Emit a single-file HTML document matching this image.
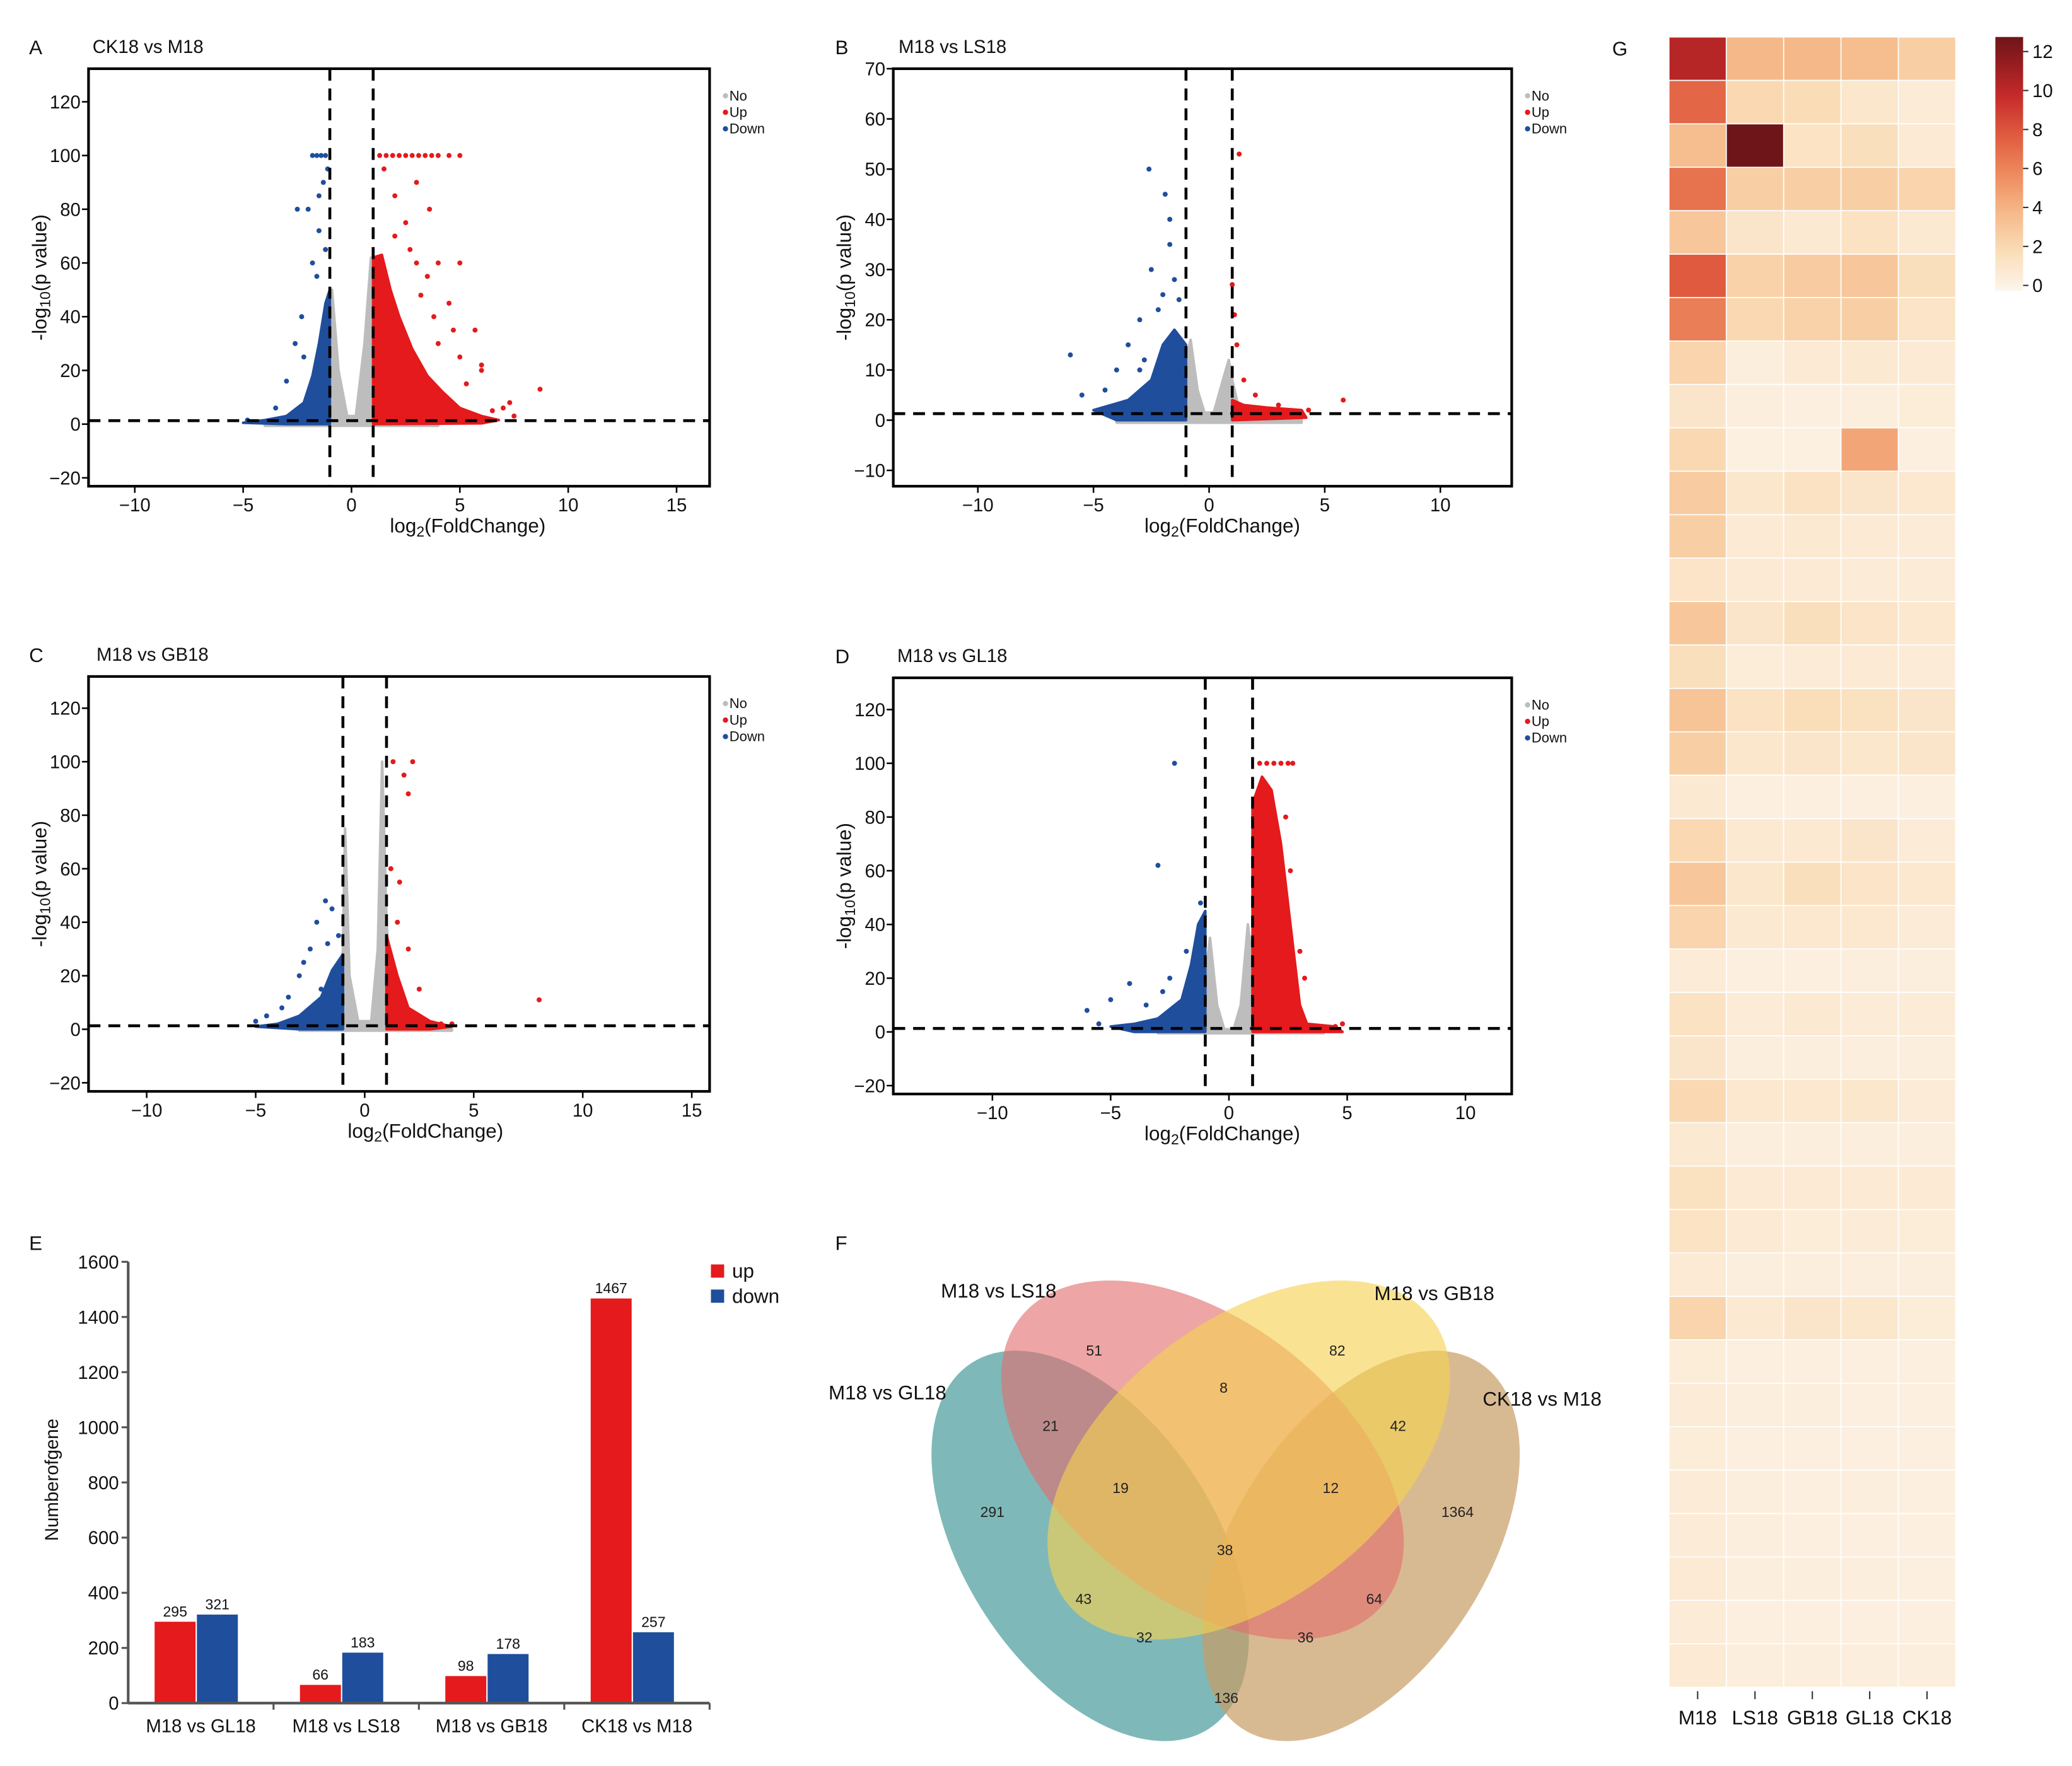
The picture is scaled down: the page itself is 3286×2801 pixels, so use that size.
<!DOCTYPE html>
<html><head><meta charset="utf-8">
<style>
html,body{margin:0;padding:0;background:#fff;}
svg{display:block;font-family:"Liberation Sans",Arial,sans-serif;}
</style></head>
<body>
<svg id="fig" xmlns="http://www.w3.org/2000/svg" width="3286" height="2801" viewBox="0 0 1568 1336.6" preserveAspectRatio="none"></svg>
<script>
// ---------- DATA ----------
// Panel A (CK18 vs M18)
const aGray=[[-4,0],[-2,0.5],[-1.3,3],[-1.05,30],[-0.9,50],[-0.6,20],[-0.2,3],[0.2,3],[0.6,30],[0.9,62],[1.05,30],[1.3,3],[2,0.5],[4,0],[4,-0.6],[-4,-0.6]];
const aUpArea=[[1,0],[1,62],[1.4,63],[1.8,50],[2.2,40],[2.8,28],[3.5,18],[4.2,12],[5,6],[6,3],[6.8,1.5],[6,0.3]];
const aUpPts=[[1.3,100],[1.6,100],[1.9,100],[2.2,100],[2.5,100],[2.8,100],[3.1,100],[3.4,100],[3.7,100],[4,100],[4.5,100],[5,100],[1.5,95],[2,85],[2.5,75],[3.6,80],[3,90],[3,60],[3.5,55],[4,60],[4.5,45],[5,60],[5,25],[5.7,35],[4,30],[6,20],[6,22],[7,6],[7.3,8],[8.7,13],[7.5,3],[6.5,5],[2,70],[2.7,65],[3.2,48],[4.7,35],[5.3,15],[3.8,40]];
const aDownArea=[[-1,0],[-1,50],[-1.2,45],[-1.5,30],[-1.8,18],[-2.2,8],[-3,3],[-4,1.5],[-5,0.5],[-3,0]];
const aDownPts=[[-1.8,100],[-1.6,100],[-1.4,100],[-1.2,100],[-2,80],[-1.5,72],[-2.5,80],[-1.8,60],[-2.3,40],[-3,16],[-1.5,85],[-2.2,25],[-4.8,1.5],[-1.3,90],[-1.2,65],[-1.6,55],[-2.6,30],[-3.5,6],[-1.1,95]];
// Panel B (M18 vs LS18)
const bGray=[[-4,0],[-2,0.5],[-1.2,3],[-1,12],[-0.8,16],[-0.5,6],[-0.2,1.5],[0.2,1.5],[0.6,8],[0.85,12],[1,8],[1.3,2],[2.5,0.5],[4,0],[4,-0.5],[-4,-0.5]];
const bUpArea=[[1,0],[1,4],[1.5,3],[2.5,2.5],[4,2],[4.2,0.5]];
const bUpPts=[[1.3,53],[1,27],[1.1,21],[5.8,4],[4.3,2],[1.2,15],[1.5,8],[2,5],[3,3]];
const bDownArea=[[-1,0],[-1,15],[-1.5,18],[-2,15],[-2.5,8],[-3.5,4],[-5,2],[-4,0]];
const bDownPts=[[-2.6,50],[-1.9,45],[-1.7,40],[-1.7,35],[-2.5,30],[-2,25],[-3,20],[-3.5,15],[-6,13],[-5.5,5],[-4,10],[-3,10],[-2.2,22],[-1.5,28],[-2.8,12],[-4.5,6],[-1.3,24]];
// Panel C (M18 vs GB18)
const cGray=[[-3,0],[-1.6,1],[-1.2,8],[-1,30],[-0.9,75],[-0.7,20],[-0.3,3],[0.3,3],[0.6,30],[0.8,100],[1,40],[1.3,5],[2.5,0.5],[4,0],[4,-0.5],[-3,-0.5]];
const cUpArea=[[1,0],[1,35],[1.5,20],[2,8],[3,3],[4,1],[3,0]];
const cUpPts=[[1.3,100],[2.2,100],[1.8,95],[2,88],[8,11],[2,30],[1.5,40],[2.5,15],[1.2,60],[1.6,55],[3.5,2],[4,2]];
const cDownArea=[[-1,0],[-1,28],[-1.5,22],[-2,12],[-3,5],[-4,2],[-5,1],[-3,0]];
const cDownPts=[[-1.8,48],[-1.5,45],[-2.2,40],[-1.2,35],[-2.5,30],[-3,20],[-3.5,12],[-5,3],[-4.5,5],[-2.8,25],[-1.7,32],[-3.8,8],[-2,15]];
// Panel D (M18 vs GL18)
const dGray=[[-3,0],[-1.6,1],[-1.2,5],[-1,20],[-0.8,35],[-0.5,10],[-0.2,1],[0.2,1],[0.5,10],[0.8,40],[1,25],[1.3,3],[2.5,0.5],[4,0],[4,-0.5],[-3,-0.5]];
const dUpArea=[[1,0],[1,85],[1.4,95],[1.8,90],[2.2,70],[2.6,40],[3,10],[3.3,3],[4.5,2],[4.8,0]];
const dUpPts=[[1.3,100],[1.6,100],[1.9,100],[2.2,100],[2.5,100],[2.7,100],[2.4,80],[2.6,60],[3,30],[3.2,20],[4.8,3],[4.5,2]];
const dDownArea=[[-1,0],[-1,45],[-1.3,40],[-1.6,25],[-2,12],[-3,5],[-4,3],[-5,2],[-4,0]];
const dDownPts=[[-2.3,100],[-3,62],[-4.2,18],[-5,12],[-6,8],[-1.2,48],[-2.5,20],[-3.5,10],[-1.8,30],[-5.5,3],[-2.8,15]];
// Panel E bar chart
const barCats=["M18 vs GL18","M18 vs LS18","M18 vs GB18","CK18 vs M18"];
const upVals=[295,66,98,1467];
const downVals=[321,183,178,257];
const barTicks=[0,200,400,600,800,1000,1200,1400,1600];
// Panel F venn
const vennValues=[51,82,8,21,42,19,12,291,1364,38,43,64,32,36,136];
// Panel G heatmap
const heatCols=["M18","LS18","GB18","GL18","CK18"];
const heatVals=[
[10.5,4,4,3.8,2.8],[7.5,2.2,2,1.2,0.8],[3.8,13,1.5,1.8,0.9],[7,2.8,2.8,2.8,2.5],[3.2,1.3,1,1.6,1],
[8,2.6,3,3.2,1.8],[6.5,2.2,2.6,2.8,1.4],[2.5,0.6,0.9,1,0.9],[1.3,0.6,0.5,0.6,0.7],[2.2,0.4,0.4,4.8,0.5],
[3,1.2,1.6,1.3,1.1],[2.8,0.9,1,0.9,0.8],[1.4,0.9,0.9,0.8,0.8],[3.2,1.3,1.8,1.4,1.1],[1.8,0.7,0.8,0.9,0.8],
[3.4,1.6,1.9,1.7,1.3],[2.8,1.2,1.3,1.2,1.3],[1,0.5,0.5,0.5,0.5],[2.2,1,1,1.3,0.8],[3.2,1.2,1.8,1.4,1.1],
[2.5,1,1.1,1.1,0.8],[0.8,0.5,0.5,0.6,0.6],[1.6,0.8,1,0.8,0.8],[1.3,0.6,0.6,0.6,0.6],[2.2,1.1,1.1,1.2,0.8],
[1,0.6,0.6,0.6,0.6],[1.7,0.9,0.9,0.9,0.9],[1.5,0.9,0.7,0.8,0.7],[0.9,0.6,0.6,0.6,0.6],[2.5,1,1.3,1.2,0.7],
[0.7,0.5,0.5,0.5,0.5],[0.8,0.6,0.6,0.5,0.5],[0.7,0.5,0.5,0.5,0.5],[0.8,0.6,0.5,0.6,0.5],[0.8,0.6,0.5,0.5,0.5],
[0.9,0.6,0.6,0.6,0.5],[0.8,0.5,0.5,0.5,0.5],[0.9,0.6,0.6,0.6,0.6]];
const cbTicks=[0,2,4,6,8,10,12];

// ---------- HELPERS ----------
const NS="http://www.w3.org/2000/svg";
const svg=document.getElementById("fig");
function mk(tag,attrs,parent){const e=document.createElementNS(NS,tag);for(const k in attrs)e.setAttribute(k,attrs[k]);(parent||svg).appendChild(e);return e;}
function txt(s,x,y,size,anchor,parent,extra){const t=mk("text",Object.assign({x:x,y:y,"font-size":size,"text-anchor":anchor||"start",fill:"#111"},extra||{}),parent);t.textContent=s;return t;}

const RED="#e41a1c",BLUE="#1f4e9c",GRAY="#bdbdbd";

function volcano(cfg){
  const g=mk("g",{});
  
  
  const [x1,y1,x2,y2]=cfg.box;
  const X=v=>cfg.x0+v*cfg.xs, Y=v=>cfg.y0-v*cfg.ys;
  const poly=(arr,col,nm)=>{const p=mk("polygon",{points:arr.map(d=>X(d[0])+","+Y(d[1])).join(" "),fill:col,stroke:col,"stroke-width":2,"stroke-linejoin":"round"},g);
    
    };
  const pts=(arr,col,nm)=>arr.forEach(d=>{const c=mk("circle",{cx:X(d[0]),cy:Y(d[1]),r:1.9,fill:col},g);
    
    });
  poly(cfg.gray,GRAY,"ns-points");
  poly(cfg.upA,RED,"up-points");
  poly(cfg.downA,BLUE,"down-points");
  pts(cfg.upP,RED,"up-point");
  pts(cfg.downP,BLUE,"down-point");
  [-1,1].forEach(v=>{const l=mk("line",{x1:X(v),x2:X(v),y1:y1,y2:y2,stroke:"#000","stroke-width":2.2,"stroke-dasharray":"9,6"},g);
    
    });
  const hl=mk("line",{x1:x1,x2:x2,y1:Y(1.3),y2:Y(1.3),stroke:"#000","stroke-width":2.2,"stroke-dasharray":"9,6"},g);
  
  
  const b=mk("rect",{x:x1,y:y1,width:x2-x1,height:y2-y1,fill:"none",stroke:"#000","stroke-width":2},g);
  
  
  cfg.xt.forEach(v=>{mk("line",{x1:X(v),x2:X(v),y1:y2,y2:y2+5,stroke:"#000","stroke-width":1.2},g);
    const t=txt(String(v).replace("-","\u2212"),X(v),y2+19,14,"middle",g);
    
    });
  cfg.yt.forEach(v=>{mk("line",{x1:x1-5,x2:x1,y1:Y(v),y2:Y(v),stroke:"#000","stroke-width":1.2},g);
    const t=txt(String(v).replace("-","\u2212"),x1-6,Y(v)+5,14,"end",g);
    
    });
  const xl=txt("",(x1+x2)/2+cfg.xlOff,y2+35,15,"middle",g);
  xl.innerHTML='log<tspan font-size="11" dy="3">2</tspan><tspan dy="-3">(FoldChange)</tspan>';
  
  
  const cy=(y1+y2)/2;
  const yl=txt("",x1-32,cy,15,"middle",g,{transform:`rotate(-90 ${x1-32} ${cy})`});
  yl.innerHTML='-log<tspan font-size="11" dy="3">10</tspan><tspan dy="-3">(p value)</tspan>';
  
  
  const tt=txt(cfg.title,cfg.tx,y1-12,14,"start",g);
  
  
  const lt=txt(cfg.letter,cfg.lx,y1-11,15,"start",g);
  
  
  [["No",GRAY],["Up",RED],["Down",BLUE]].forEach((d,i)=>{
    const yy=y1+24+i*12.5;
    const c=mk("circle",{cx:x2+12,cy:yy-3.5,r:2,fill:d[1]},g);
    
    
    const t=txt(d[0],x2+15,yy,10.5,"start",g);
    
    
  });
}

const yA=[120,100,80,60,40,20,0,-20];
volcano({name:"volcano-ck18-vs-m18",box:[67,52,537,368],x0:266,xs:16.4,y0:321,ys:2.033,xt:[-10,-5,0,5,10,15],yt:yA,gray:aGray,upA:aUpArea,upP:aUpPts,downA:aDownArea,downP:aDownPts,title:"CK18 vs M18",tx:70,letter:"A",lx:22,xlOff:52});
volcano({name:"volcano-m18-vs-ls18",box:[676,52,1144,368],x0:915,xs:17.5,y0:318,ys:3.8,xt:[-10,-5,0,5,10],yt:[70,60,50,40,30,20,10,0,-10],gray:bGray,upA:bUpArea,upP:bUpPts,downA:bDownArea,downP:bDownPts,title:"M18 vs LS18",tx:680,letter:"B",lx:632,xlOff:15});
volcano({name:"volcano-m18-vs-gb18",box:[67,512,537,826],x0:276,xs:16.5,y0:779,ys:2.025,xt:[-10,-5,0,5,10,15],yt:yA,gray:cGray,upA:cUpArea,upP:cUpPts,downA:cDownArea,downP:cDownPts,title:"M18 vs GB18",tx:73,letter:"C",lx:22,xlOff:20});
volcano({name:"volcano-m18-vs-gl18",box:[676,513,1144,828],x0:930,xs:17.9,y0:781,ys:2.033,xt:[-10,-5,0,5,10],yt:yA,gray:dGray,upA:dUpArea,upP:dUpPts,downA:dDownArea,downP:dDownPts,title:"M18 vs GL18",tx:679,letter:"D",lx:632,xlOff:15});

// ---------- E: bar chart ----------
(function(){
  const g=mk("g",{});
  
  
  const ax=97, base=1289, top=955, maxV=1600, right=537;
  const Y=v=>base-v*(base-top)/maxV;
  const step=(right-ax)/barCats.length;
  const bw=31;
  barCats.forEach((c,i)=>{
    const cx=ax+step*(i+0.5)-4;
    const r=mk("rect",{x:cx-bw,y:Y(upVals[i]),width:bw,height:base-Y(upVals[i]),fill:RED},g);
    
    
    const b=mk("rect",{x:cx+1,y:Y(downVals[i]),width:bw,height:base-Y(downVals[i]),fill:BLUE},g);
    
    
    const t1=txt(String(upVals[i]),cx-bw/2,Y(upVals[i])-4,11,"middle",g);
    
    
    const t2=txt(String(downVals[i]),cx+1+bw/2,Y(downVals[i])-4,11,"middle",g);
    
    
    const t3=txt(c,cx+4,base+22,14,"middle",g);
    
    
    mk("line",{x1:ax+step*(i+1),x2:ax+step*(i+1),y1:base,y2:base+5,stroke:"#555","stroke-width":1.5},g);
  });
  const ya=mk("line",{x1:ax,x2:ax,y1:top,y2:base,stroke:"#555","stroke-width":2},g);
  
  
  const xa=mk("line",{x1:ax,x2:right,y1:base,y2:base,stroke:"#555","stroke-width":2},g);
  
  
  barTicks.forEach(v=>{mk("line",{x1:ax-5,x2:ax,y1:Y(v),y2:Y(v),stroke:"#555","stroke-width":1.5},g);
    const t=txt(String(v),ax-7,Y(v)+5,14,"end",g);
    
    });
  const yl=txt("Numberofgene",44,1120,14,"middle",g,{transform:"rotate(-90 44 1120)"});
  
  
  const L=txt("E",22,946,15,"start",g);
  
  
  [["up",RED,966],["down",BLUE,985]].forEach(d=>{
    const r=mk("rect",{x:538,y:d[2]-9,width:10,height:10,fill:d[1]},g);
    
    
    const t=txt(d[0],554,d[2]+1,15,"start",g);
    
    
  });
})();

// ---------- F: venn ----------
(function(){
  const g=mk("g",{});
  
  
  const ells=[["gl18",825,1170,165,95,57,"#4e9c9c",0.72],["ck18",1030,1170,165,95,-57,"#c89c64",0.7],["ls18",910,1105,175,105,38,"#e26d6d",0.62],["gb18",945,1105,175,105,-38,"#f6d251",0.62]];
  ells.forEach(e=>{
    const el=mk("ellipse",{cx:e[1],cy:e[2],rx:e[3],ry:e[4],fill:e[6],"fill-opacity":e[7],transform:`rotate(${e[5]} ${e[1]} ${e[2]})`},g);
    
    
  });
  const pos=[[828,1026],[1012,1026],[926,1054],[795,1083],[1058,1083],[848,1130],[1007,1130],[751,1148],[1103,1148],[927,1177],[820,1214],[1040,1214],[866,1243],[988,1243],[928,1289]];
  vennValues.forEach((v,i)=>{const t=txt(String(v),pos[i][0],pos[i][1],11,"middle",g,{fill:"#222"});
    
    });
  [["M18 vs LS18",712,982],["M18 vs GB18",1040,984],["M18 vs GL18",627,1059],["CK18 vs M18",1122,1064]].forEach(d=>{
    const t=txt(d[0],d[1],d[2],15,"start",g);
    
    
  });
  const L=txt("F",632,946,15,"start",g);
  
  
})();

// ---------- G: heatmap ----------
const stops=[[0,[253,245,236]],[2,[250,221,183]],[4,[245,185,137]],[6,[238,138,94]],[8,[223,90,62]],[10,[197,42,42]],[12,[139,26,30]],[13,[110,21,25]]];
function cmap(v){for(let i=1;i<stops.length;i++){if(v<=stops[i][0]){const a=stops[i-1],b=stops[i];const t=(v-a[0])/(b[0]-a[0]);return "rgb("+a[1].map((c,k)=>Math.round(c+(b[1][k]-c)*t)).join(",")+")";}}return "rgb(110,21,25)";}
(function(){
  const g=mk("g",{});
  
  
  const x0=1263,x1=1480,y0=28,y1=1277;
  const cw=(x1-x0)/heatCols.length, rh=(y1-y0)/heatVals.length;
  heatVals.forEach((row,r)=>row.forEach((v,c)=>{
    const cell=mk("rect",{x:x0+c*cw,y:y0+r*rh,width:cw,height:rh,fill:cmap(v),stroke:"#fff","stroke-width":0.8},g);
    
    
  }));
  heatCols.forEach((c,i)=>{
    const cx=x0+(i+0.5)*cw;
    mk("line",{x1:cx,x2:cx,y1:y1+3,y2:y1+9,stroke:"#333","stroke-width":1},g);
    const t=txt(c,cx,y1+28,15,"middle",g);
    
    
  });
  const L=txt("G",1220,42,15,"start",g);
  
  
  const defs=mk("defs",{});
  const lg=mk("linearGradient",{id:"cbg",x1:0,y1:1,x2:0,y2:0},defs);
  stops.forEach(s=>mk("stop",{offset:s[0]/13,"stop-color":"rgb("+s[1].join(",")+")"},lg));
  const cb=mk("rect",{x:1510,y:28,width:21,height:192,fill:"url(#cbg)"},g);
  
  
  const CY=v=>216-v*(216-39)/12;
  cbTicks.forEach(v=>{mk("line",{x1:1531,x2:1535,y1:CY(v),y2:CY(v),stroke:"#333","stroke-width":1},g);
    const t=txt(String(v),1538,CY(v)+5,14,"start",g);
    
    });
})();
</script>
</body></html>
